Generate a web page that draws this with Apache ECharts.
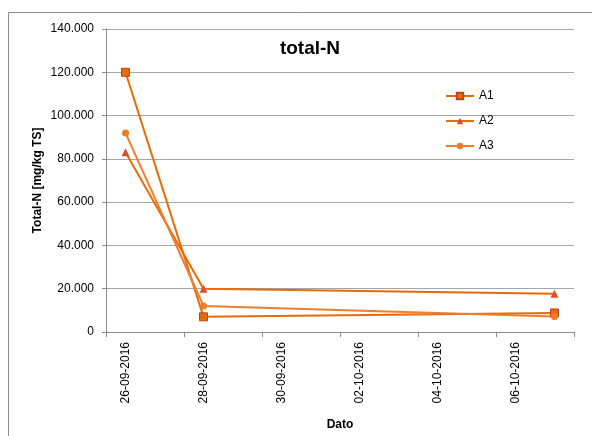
<!DOCTYPE html>
<html>
<head>
<meta charset="utf-8">
<script src="https://cdn.jsdelivr.net/npm/echarts@6/dist/echarts.min.js"></script>
<style>
html,body{margin:0;padding:0;background:#fff;}
#c{width:592px;height:436px;}
</style>
</head>
<body>
<div id="c"></div>
<script>
// Day slots on the date axis (Excel-style date axis, one slot per day)
var days = ['26-09-2016','27-09-2016','28-09-2016','29-09-2016','30-09-2016','01-10-2016',
            '02-10-2016','03-10-2016','04-10-2016','05-10-2016','06-10-2016','07-10-2016'];
var sampleDates = ['26-09-2016','28-09-2016','07-10-2016'];
var a1 = [120000, 7000, 8800];
var a2 = [83000, 20000, 17700];
var a3 = [92000, 12000, 7200];
var yTicks = [0, 20000, 40000, 60000, 80000, 100000, 120000, 140000];

function pairs(vals){ return sampleDates.map(function(d,i){ return [d, vals[i]]; }); }
function fmt(v){
  if (v === 0) return '0';
  return String(v).replace(/\B(?=(\d{3})+(?!\d))/g, '.');
}

var chart = echarts.init(document.getElementById('c'), null, {renderer:'canvas'});
var font = 'Liberation Sans, Arial, sans-serif';
chart.setOption({
  animation: false,
  backgroundColor: '#fff',
  textStyle: {fontFamily: font},
  graphic: [{
    type: 'rect', silent: true,
    shape: {x: 8.5, y: 12.5, width: 700, height: 600},
    style: {fill: 'none', stroke: '#8c8c8c', lineWidth: 1}
  }],
  title: {
    text: 'total-N', left: 305, top: 34, textAlign: 'center',
    textStyle: {fontFamily: font, fontSize: 19, fontWeight: 'bold', color: '#000'}
  },
  legend: {
    orient: 'vertical', left: 445, top: 90, padding: 0,
    itemWidth: 28, itemHeight: 8, itemGap: 13,
    textStyle: {fontFamily: font, fontSize: 12, color: '#000'},
    data: ['A1','A2','A3']
  },
  grid: {left: 106, right: 18, top: 29, bottom: 104, containLabel: false},
  xAxis: {
    type: 'category',
    data: days,
    boundaryGap: true,
    name: 'Dato', nameLocation: 'middle', nameGap: 87,
    nameTextStyle: {fontFamily: font, fontSize: 12, fontWeight: 'bold', color: '#000'},
    axisLine: {lineStyle: {color: '#8c8c8c', width: 1}},
    axisTick: {show: true, interval: 1, length: 5, lineStyle: {color: '#8c8c8c'}},
    axisLabel: {interval: 1, rotate: 90, margin: 10, fontSize: 12, color: '#000', fontFamily: font},
    splitLine: {show: false}
  },
  yAxis: {
    type: 'value', min: 0, max: 140000, interval: 20000,
    name: 'Total-N [mg/kg TS]', nameLocation: 'middle', nameGap: 62, nameMoveOverlap: false,
    nameTextStyle: {fontFamily: font, fontSize: 12, fontWeight: 'bold', color: '#000'},
    axisLine: {show: true, lineStyle: {color: '#8c8c8c', width: 1}},
    axisTick: {show: true, length: 4, lineStyle: {color: '#8c8c8c'}},
    axisLabel: {fontSize: 12, color: '#000', margin: 12, fontFamily: font,
      formatter: function(v){ return yTicks.indexOf(v) >= 0 ? fmt(v) : ''; }},
    splitLine: {show: true, lineStyle: {color: '#a6a6a6', width: 1}}
  },
  series: [
    {name: 'A1', type: 'line', data: pairs(a1), symbol: 'rect', symbolSize: 8,
     lineStyle: {color: '#E46C0A', width: 2},
     itemStyle: {color: '#E46C0A', borderColor: '#B6461C', borderWidth: 1}},
    {name: 'A2', type: 'line', data: pairs(a2), symbol: 'triangle', symbolSize: 8,
     lineStyle: {color: '#E46C0A', width: 2},
     itemStyle: {color: '#D4532E', borderColor: '#D4532E', borderWidth: 0}},
    {name: 'A3', type: 'line', data: pairs(a3), symbol: 'circle', symbolSize: 7,
     lineStyle: {color: '#EE7E2E', width: 2},
     itemStyle: {color: '#EC7B2A', borderWidth: 0}}
  ]
});
</script>
</body>
</html>
